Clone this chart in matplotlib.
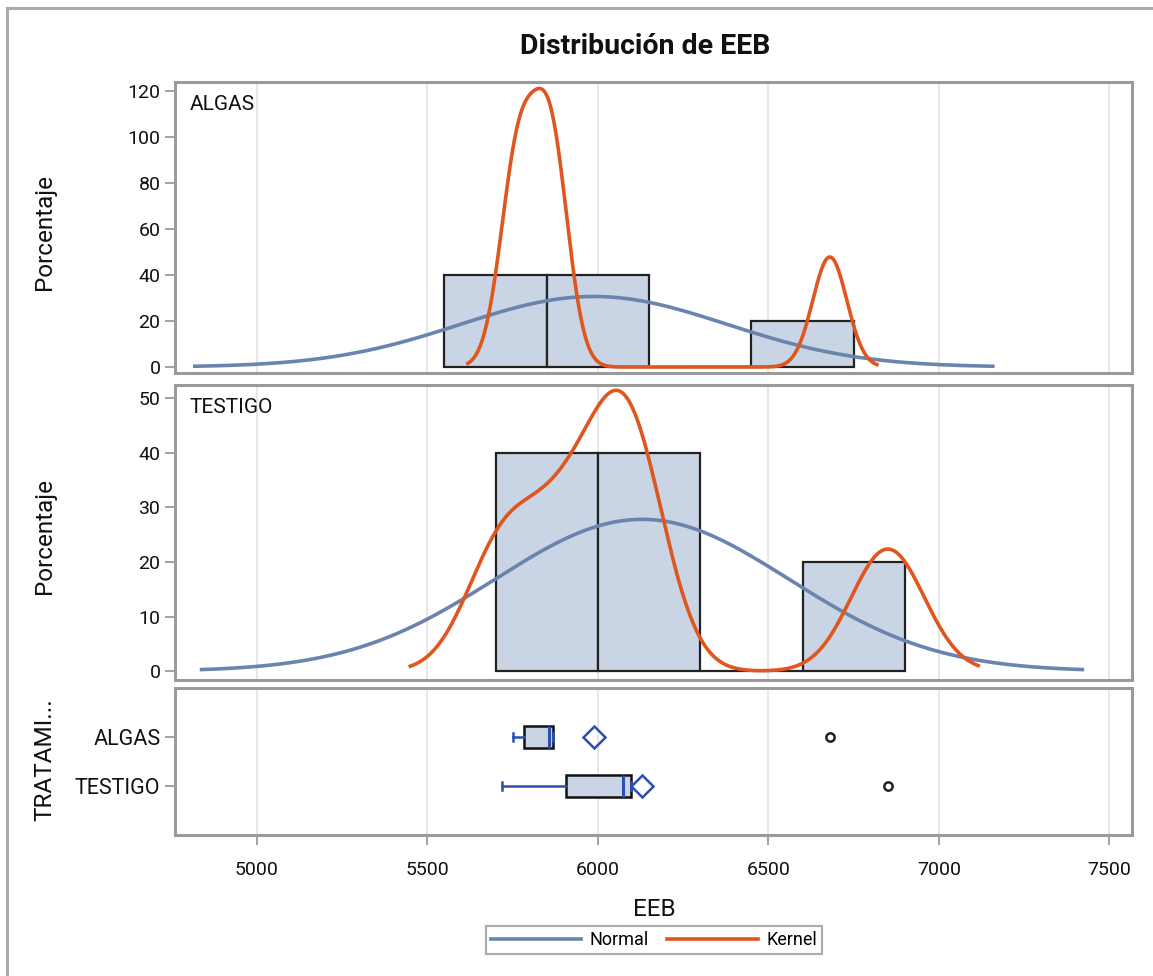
import numpy as np
import matplotlib
matplotlib.use("Agg")
import matplotlib.pyplot as plt
from matplotlib.lines import Line2D

plt.rcParams['font.family'] = ['Roboto', 'DejaVu Sans']

groups = ["ALGAS", "TESTIGO"]
algas = [5752, 5782, 5858, 5868, 6680]
testigo = [5720, 5906, 6073, 6097, 6850]
bins_algas = [5550, 5850, 6150, 6450, 6750]
bins_testigo = [5700, 6000, 6300, 6600, 6900]
kernel_bw = [50, 107]
kernel_span = [(5619, 6818), (5450, 7115)]
yticks_hist = [[0, 20, 40, 60, 80, 100, 120], [0, 10, 20, 30, 40, 50]]
ylims_hist = [(-2.6, 124), (-1.6, 52.4)]
xticks = [5000, 5500, 6000, 6500, 7000, 7500]

W, H = 1153, 976
fill_c = "#c9d4e5"
normal_c = "#6b84ae"
kernel_c = "#e0561f"
spine_c = "#9a9a9a"
grid_c = "#e3e3e3"
box_blue = "#2c4fb3"


def add_ax(top, bottom, left=175, right=1132):
    return fig.add_axes([left / W, 1 - bottom / H, (right - left) / W, (bottom - top) / H])


def style(ax):
    for s in ax.spines.values():
        s.set_color(spine_c)
        s.set_linewidth(2.2)
    ax.set_xlim(4760, 7566)
    ax.set_xticks(xticks)
    ax.grid(axis="x", color=grid_c, lw=1.2)
    ax.set_axisbelow(True)
    ax.tick_params(axis="both", colors=spine_c, labelcolor="#111", labelsize=14,
                   length=7, width=1.3)


fig = plt.figure(figsize=(W / 100, H / 100), dpi=100)

# outer frame
fig.add_artist(Line2D([7 / W, 7 / W], [0, 1 - 8 / H], color="#aaaaaa", lw=2.2))
fig.add_artist(Line2D([7 / W, 1], [1 - 8 / H, 1 - 8 / H], color="#aaaaaa", lw=2.2))

fig.text(645 / W, 1 - 47 / H, "Distribución de EEB", ha="center", va="center",
         fontsize=20.5, fontweight="bold", color="#111")

panels = [(82, 373), (385, 680)]
data = [algas, testigo]
bins = [bins_algas, bins_testigo]

for i, (top, bot) in enumerate(panels):
    ax = add_ax(top, bot)
    style(ax)
    vals = np.array(data[i], dtype=float)
    n = len(vals)
    ax.hist(vals, bins=bins[i], weights=np.full(n, 100.0 / n), color=fill_c,
            edgecolor="#222", lw=1.6, zorder=2)
    width = bins[i][1] - bins[i][0]
    mu, sd = vals.mean(), vals.std(ddof=1)
    xs = np.linspace(mu - 3 * sd, mu + 3 * sd, 300)
    ax.plot(xs, 100 * width * np.exp(-0.5 * ((xs - mu) / sd) ** 2) / (sd * np.sqrt(2 * np.pi)),
            color=normal_c, lw=2.6, zorder=3)
    h = kernel_bw[i]
    xk = np.linspace(kernel_span[i][0], kernel_span[i][1], 400)
    dens = np.exp(-0.5 * ((xk[:, None] - vals[None, :]) / h) ** 2).sum(axis=1) / (n * h * np.sqrt(2 * np.pi))
    ax.plot(xk, 100 * width * dens, color=kernel_c, lw=2.6, zorder=4)
    ax.set_ylim(*ylims_hist[i])
    ax.set_yticks(yticks_hist[i])
    ax.tick_params(axis="x", bottom=False, labelbottom=False)
    ax.text(0.015, 0.955, groups[i], transform=ax.transAxes, ha="left", va="top",
            fontsize=15, color="#111")
    fig.text(45 / W, 1 - ((top + bot) / 2 + 4) / H, "Porcentaje", rotation=90,
             ha="center", va="center", fontsize=17.5, color="#111")

# box plots
axb = add_ax(688, 835)
style(axb)
axb.boxplot(data, positions=[1, 2], orientation="horizontal", widths=0.43,
            patch_artist=True, whis=1.5, showmeans=True, capwidths=0.16,
            boxprops=dict(facecolor=fill_c, edgecolor="#111", lw=1.8),
            medianprops=dict(color=box_blue, lw=2.2),
            whiskerprops=dict(color=box_blue, lw=1.8),
            capprops=dict(color=box_blue, lw=1.8),
            meanprops=dict(marker="D", markersize=11, markerfacecolor="none",
                           markeredgecolor=box_blue, markeredgewidth=1.8),
            flierprops=dict(marker="o", markersize=6, markerfacecolor="none",
                            markeredgecolor="#222", markeredgewidth=1.8),
            zorder=3)
axb.set_ylim(3.0, 0.0)
axb.set_yticks([1, 2])
axb.set_yticklabels(groups, fontsize=15.5)
axb.set_xticks(xticks)
axb.set_xticklabels([str(t) for t in xticks])
axb.tick_params(axis="x", pad=12)
fig.text(45 / W, 1 - 760 / H, "TRATAMI...", rotation=90, ha="center", va="center",
         fontsize=17.5, color="#111")
fig.text(654 / W, 1 - 910 / H, "EEB", ha="center", va="center", fontsize=17.5, color="#111")

handles = [Line2D([], [], color=normal_c, lw=2.6), Line2D([], [], color=kernel_c, lw=2.6)]
leg = fig.legend(handles, ["Normal", "Kernel"], loc="center", ncol=2,
                 bbox_to_anchor=(654 / W, 1 - 940 / H), fontsize=13,
                 frameon=True, fancybox=False, handlelength=5, columnspacing=1.0,
                 borderpad=0.25, handletextpad=0.5)
leg.get_frame().set_edgecolor(spine_c)
leg.get_frame().set_linewidth(1.6)

fig.savefig("out.png", dpi=100)
